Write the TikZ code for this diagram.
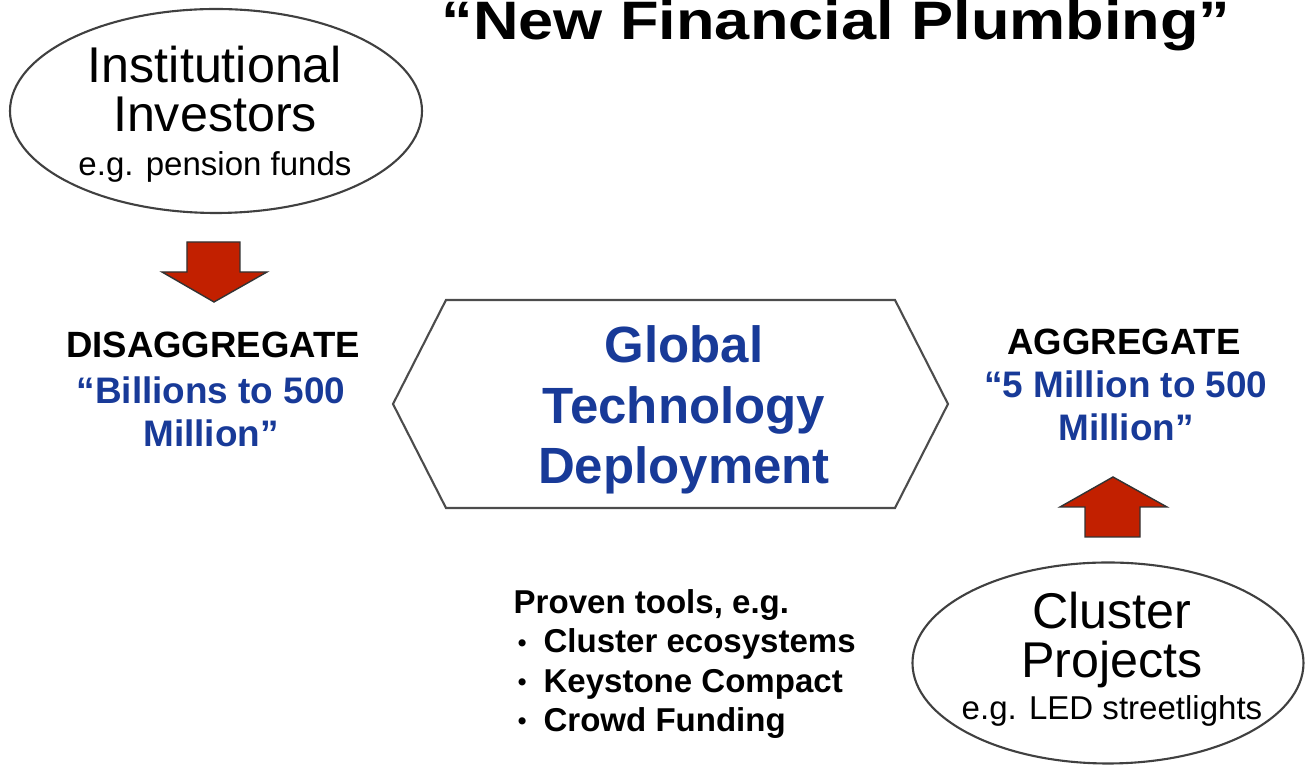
\documentclass[tikz,border=0pt]{standalone}
\usepackage{fontspec}
\setmainfont{Liberation Sans}
\usepackage{graphicx}
\usepackage{tikz}
\usetikzlibrary{positioning,shapes.geometric}
\definecolor{dealblue}{RGB}{24,58,152}
\definecolor{arrowred}{RGB}{194,32,0}
\newcommand{\toolitem}{\makebox[8.5pt][l]{\hspace{1.2pt}\raisebox{0.1ex}{\scalebox{0.75}{•}}}}
\tikzset{
  bubble/.style={draw=black!75, line width=0.6pt, ellipse, inner sep=0pt},
  bubbletext/.style={anchor=north, align=center, inner sep=0pt, font=\fontsize{14.3}{14}\selectfont},
  bigarrow/.style={draw=black!80, line width=0.4pt, fill=arrowred},
  heading/.style={font=\fontsize{10.4}{12.3}\selectfont\bfseries, inner sep=0pt},
  amount/.style={font=\fontsize{10.5}{12.3}\selectfont\bfseries, text=dealblue, align=center, inner sep=0pt},
  hexa/.style={draw=black!70, line width=0.6pt},
}

\begin{document}
\begin{tikzpicture}[x=0.1mm,y=-0.1mm]
  \useasboundingbox (0,0) rectangle (1305,765);
  \node[anchor=base, font=\fontsize{15.4}{18}\selectfont\bfseries, inner sep=0pt] (title) at (836,40) {\scalebox{1.166}[1]{“New Financial Plumbing”}};

  % investors side
  \node[bubble, minimum width=41.2mm, minimum height=20.4mm] (inv) at (216,111) {};
  \node[bubbletext] (invtext) at (215,45)
    {Institutional\\Investors\\[-1.5pt]\fontsize{9.4}{14}\selectfont e.g. pension funds};
  \draw[bigarrow] (187,242) -- (240,242) -- (240,272) -- (267,272) -- (214,302) -- (162,272) -- (187,272) -- cycle;
  \node[heading, anchor=base] (dis) at (213,358) {DISAGGREGATE};
  \node[amount, anchor=north] (disq) at (211,376) {“Billions to 500\\Million”};

  % middle
  \draw[hexa] (393,404) -- (446,300) -- (895,300) -- (948,404) -- (895,508) -- (446,508) -- cycle;
  \node[font=\fontsize{14.5}{17.3}\selectfont\bfseries, text=dealblue, align=center, inner sep=0pt] (gtd) at (684,410)
    {Global\\Technology\\Deployment};
  \node[anchor=north west, align=left, font=\fontsize{9.4}{11.2}\selectfont\bfseries, inner sep=0pt] (tools) at (513,589)
    {Proven tools, e.g.\\\toolitem Cluster ecosystems\\\toolitem Keystone Compact\\\toolitem Crowd Funding};

  % projects side
  \node[heading, anchor=base] (agg) at (1124,355) {AGGREGATE};
  \node[amount, anchor=north] (aggq) at (1126,370) {“5 Million to 500\\Million”};
  \draw[bigarrow] (1085,537) -- (1140,537) -- (1140,507) -- (1167,507) -- (1113,477) -- (1060,507) -- (1085,507) -- cycle;
  \node[bubble, minimum width=39.1mm, minimum height=20.1mm] (clu) at (1108,663) {};
  \node[bubbletext] (clutext) at (1112,591)
    {Cluster\\Projects\\[-2pt]\fontsize{9.4}{14}\selectfont e.g. LED streetlights};
\end{tikzpicture}
\end{document}
